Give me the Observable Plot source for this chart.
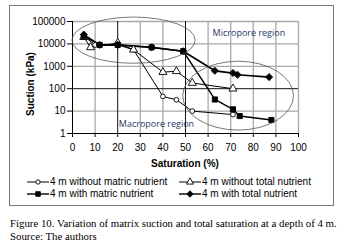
<!DOCTYPE html>
<html><head><meta charset="utf-8">
<script src="https://cdn.jsdelivr.net/npm/d3@7"></script>
<script src="https://cdn.jsdelivr.net/npm/@observablehq/plot@0.6"></script>
<style>
html,body{margin:0;padding:0;background:#fff;width:359px;height:251px;overflow:hidden;position:relative}
.abs{position:absolute}
.sans{font-family:"Liberation Sans",Arial,sans-serif;color:#000}
.leg{font-size:10px;line-height:12px;white-space:nowrap;display:flex;align-items:center}
.leg svg{margin-right:1px}
#cap{font-family:"Liberation Serif","Times New Roman",serif;font-size:10.8px;line-height:13px;left:10px;top:217px;white-space:nowrap}
</style></head>
<body>
<div class="abs" style="left:9px;top:5px;width:323px;height:199px;border:1px solid #777"></div>
<div id="chart" class="abs" style="left:0;top:0"></div>
<div class="abs sans" style="left:30px;top:84px;transform:translate(-50%,-50%) rotate(-90deg);font-weight:bold;font-size:10px;white-space:nowrap">Suction (kPa)</div>
<div class="abs sans" style="left:185px;top:163px;transform:translate(-50%,-50%);font-weight:bold;font-size:10px;white-space:nowrap">Saturation (%)</div>
<div id="legend"></div>
<div id="cap" class="abs">Figure 10. Variation of matrix suction and total saturation at a depth of 4 m.<br>Source: The authors</div>
<script>
// Data
const seriesNames = ["4 m without matric nutrient","4 m without total nutrient","4 m with matric nutrient","4 m with total nutrient"];
const satNoMatric = [5, 10, 20, 27, 40, 46, 53, 71];
const sucNoMatric = [22000, 9000, 9000, 5500, 45, 32, 10, 7];
const satNoTotal = [5, 8, 20, 27, 40, 46, 53, 71];
const sucNoTotal = [20000, 7000, 11000, 5500, 550, 600, 180, 100];
const satMatric = [5, 12, 20, 35, 49, 63, 71, 74, 88];
const sucMatric = [22000, 9000, 9000, 7000, 4700, 33, 12, 6, 4];
const satTotal = [5, 12, 20, 35, 49, 63, 71, 73, 87];
const sucTotal = [26000, 9000, 9000, 7000, 4700, 630, 500, 420, 330];
const xTicks = [0,10,20,30,40,50,60,70,80,90,100];
const yTicks = [1,10,100,1000,10000,100000];
const regionLabels = ["Micropore region","Macropore region"];
const regionX = [62, 20.5];
const regionY = [30000, 2.7];
// ellipse annotations in data units: [x0, x1, yTop, yBottom]
const ellipses = [[0, 54.5, 150000, 1300],[49, 98, 1600, 1.35]];

const sets = [[satNoMatric,sucNoMatric],[satNoTotal,sucNoTotal],[satMatric,sucMatric],[satTotal,sucTotal]];
const styles = [
  {symbol:"circle", fill:"white", r:2.4, sw:1},
  {symbol:"triangle", fill:"white", r:3, sw:1},
  {symbol:"square", fill:"black", r:2.9, sw:1.4},
  {symbol:"diamond2", fill:"black", r:3.2, sw:1.7}
];
const tables = sets.map(([xs,ys],i)=>xs.map((x,j)=>({x, y:ys[j], s:seriesNames[i]})));

const darkX = [20,50];
const grayX = xTicks.filter(t=>t!==0 && !darkX.includes(t));
const darkY = [100];
const grayY = yTicks.filter(t=>t!==1 && !darkY.includes(t));

const marks = [
  Plot.ruleX(grayX,{stroke:"#a8a8a8",strokeWidth:1.3}),
  Plot.ruleY(grayY,{stroke:"#a8a8a8",strokeWidth:1.3}),
  Plot.ruleX(darkX,{stroke:"#111",strokeWidth:1}),
  Plot.ruleY(darkY,{stroke:"#111",strokeWidth:1}),
  Plot.ruleX([0],{stroke:"#000",strokeWidth:1}),
  Plot.ruleY([1],{stroke:"#000",strokeWidth:1}),
];
tables.forEach((t,i)=>{
  marks.push(Plot.line(t,{x:"x",y:"y",stroke:"#000",strokeWidth:styles[i].sw}));
});
tables.forEach((t,i)=>{
  marks.push(Plot.dot(t,{x:"x",y:"y",symbol:()=>styles[i].symbol,r:styles[i].r,fill:styles[i].fill,stroke:"#000",strokeWidth:0.9}));
});
marks.push(Plot.text(regionLabels.map((l,i)=>({l,x:regionX[i],y:regionY[i]})),{x:"x",y:"y",text:"l",textAnchor:"start",fill:"#1f3864",fontSize:9,fontFamily:"'Open Sans',sans-serif"}));

const plot = Plot.plot({
  width:359, height:170,
  marginLeft:72, marginRight:61, marginTop:21, marginBottom:37,
  style:{fontFamily:"'Liberation Sans',Arial,sans-serif",fontSize:"10px",background:"transparent",color:"#000",overflow:"visible"},
  x:{domain:[0,100], ticks:xTicks, tickSize:4, tickPadding:6, label:null},
  y:{type:"log", domain:[1,100000], ticks:yTicks, tickFormat:d=>String(d), tickSize:5, tickPadding:2, label:null},
  symbol:{type:"identity"},
  marks
});
document.getElementById("chart").appendChild(plot);

// Ellipses via the plot's own scales
const sx = plot.scale("x"), sy = plot.scale("y");
const svg = d3.select(plot);
ellipses.forEach(([x0,x1,yt,yb])=>{
  const px0=sx.apply(x0), px1=sx.apply(x1), py0=sy.apply(yt), py1=sy.apply(yb);
  svg.append("ellipse").attr("cx",(px0+px1)/2).attr("cy",(py0+py1)/2)
    .attr("rx",(px1-px0)/2).attr("ry",(py1-py0)/2)
    .attr("fill","none").attr("stroke","#555").attr("stroke-width",0.8);
});

// Legend
const legPos = [[27,176],[179,176],[27,188],[179,188]];
const leg = document.getElementById("legend");
seriesNames.forEach((n,i)=>{
  const st = styles[i];
  const d = document.createElement("div");
  d.className="abs sans leg"; d.style.left=legPos[i][0]+"px"; d.style.top=legPos[i][1]+"px";
  const path = d3.symbol(st.symbol==="circle"?d3.symbolCircle:st.symbol==="triangle"?d3.symbolTriangle:st.symbol==="square"?d3.symbolSquare:d3.symbolDiamond2, Math.PI*st.r*st.r*0.8)();
  d.innerHTML = `<svg width="22" height="12"><line x1="0" x2="22" y1="6" y2="6" stroke="#000" stroke-width="${Math.min(st.sw,1.4)}"/><path d="${path}" transform="translate(11,6)" fill="${st.fill}" stroke="#000" stroke-width="0.9"/></svg><span>${n}</span>`;
  leg.appendChild(d);
});
</script>
</body></html>
